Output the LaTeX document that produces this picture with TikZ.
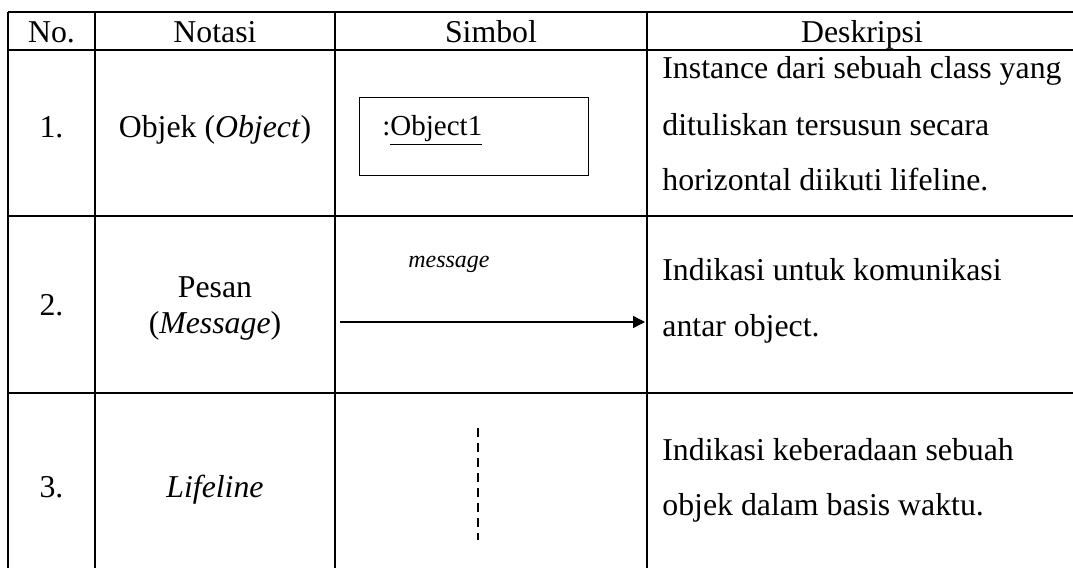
\documentclass[tikz,border=0pt]{standalone}
\usepackage{fontspec}
\setmainfont{Liberation Serif}
\usetikzlibrary{arrows.meta}
\begin{document}
\begin{tikzpicture}[x=0.5pt,y=-0.5pt,
  grid/.style={line width=0.7pt, black},
  body/.style={inner sep=0pt, font=\fontsize{15.9}{18}\selectfont},
  cell/.style={body, anchor=base},
  desc/.style={body, anchor=base west},
  objbox/.style={draw, line width=0.5pt, minimum width=114.5pt, minimum height=39pt, inner sep=0pt},
  objtxt/.style={inner sep=0pt, anchor=base west, font=\fontsize{14.5}{17}\selectfont},
  msglabel/.style={inner sep=0pt, anchor=base, font=\fontsize{12}{14}\selectfont\itshape},
  msgarrow/.style={line width=0.65pt, -{Triangle[length=6pt,width=6pt]}},
  lifeline/.style={line width=0.55pt, dash pattern=on 4.5pt off 3pt}]
\useasboundingbox (0,0) rectangle (1073,568);
% table grid
\draw[grid] (8,12) -- (1080,12);
\draw[grid] (8,50) -- (1080,50);
\draw[grid] (8,216) -- (1080,216);
\draw[grid] (8,393) -- (1080,393);
\draw[grid] (8,12) -- (8,575);
\draw[grid] (95,12) -- (95,575);
\draw[grid] (335,12) -- (335,575);
\draw[grid] (647,12) -- (647,575);
% header
\node[cell] (hno) at (51.5,42) {No.};
\node[cell] (hnot) at (215,42) {Notasi};
\node[cell] (hsim) at (491,42) {Simbol};
\node[cell] (hdes) at (862,42) {Deskripsi};
% row 1
\node[cell] (n1) at (51.5,137) {1.};
\node[cell] (t1) at (215,137) {Objek (\textit{Object})};
\node[objbox] (obj) at (473.5,136) {};
\node[objtxt] (objt) at (382,135) {:\underline{Object1}};
\node[desc] (d1a) at (662,78) {Instance dari sebuah class yang};
\node[desc] (d1b) at (662,135) {dituliskan tersusun secara};
\node[desc] (d1c) at (662,190) {horizontal diikuti lifeline.};
% row 2
\node[cell] (n2) at (51.5,315) {2.};
\node[cell] (t2a) at (215,297) {Pesan};
\node[cell] (t2b) at (215,333) {(\textit{Message})};
\node[msglabel] (ml) at (449,267) {message};
\coordinate (ms) at (340,322);
\coordinate (me) at (645,322);
\draw[msgarrow] (ms) -- (me);
\node[desc] (d2a) at (662,280) {Indikasi untuk komunikasi};
\node[desc] (d2b) at (662,336) {antar object.};
% row 3
\node[cell] (n3) at (51.5,497) {3.};
\node[cell] (t3) at (215,497) {\textit{Lifeline}};
\coordinate (lt) at (478,428);
\coordinate (lb) at (478,540);
\draw[lifeline] (lt) -- (lb);
\node[desc] (d3a) at (662,460) {Indikasi keberadaan sebuah};
\node[desc] (d3b) at (662,515) {objek dalam basis waktu.};
\end{tikzpicture}
\end{document}
